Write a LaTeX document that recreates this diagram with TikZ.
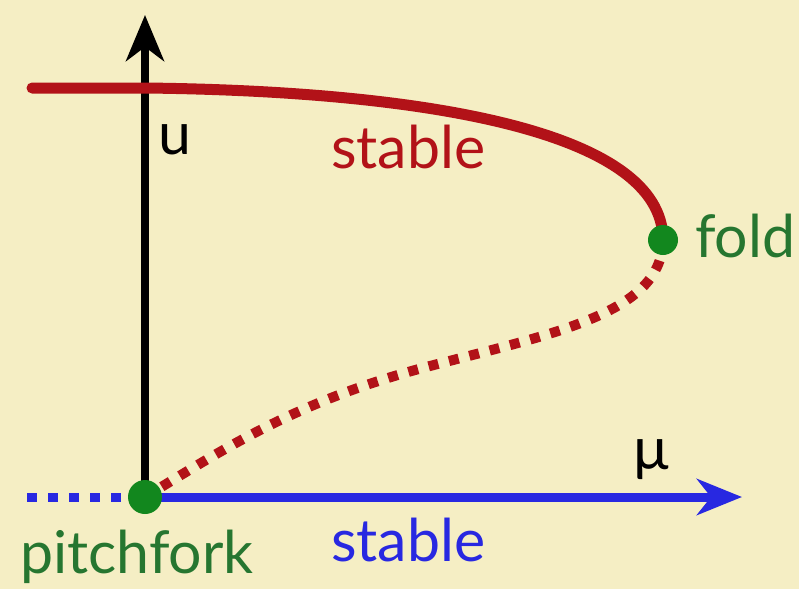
\documentclass[tikz,border=0pt]{standalone}
\usepackage{fontspec}
\setmainfont{Lato}
\usetikzlibrary{arrows.meta}
\definecolor{bg}{RGB}{245,238,196}
\definecolor{myred}{RGB}{178,18,24}
\definecolor{myblue}{RGB}{40,40,225}
\definecolor{dotgreen}{RGB}{18,135,30}
\definecolor{txtgreen}{RGB}{38,118,48}
\tikzset{
  lbl/.style={inner sep=0pt, font=\fontsize{59}{63}\selectfont},
  bdot/.style={circle, fill=dotgreen, inner sep=0pt, minimum size=#1},
  dotline/.style={line cap=butt, dash pattern=on 10pt off 11pt}
}
\begin{document}
\begin{tikzpicture}[x=1pt,y=-1pt]
\fill[bg] (0,0) rectangle (799,589);
\useasboundingbox (0,0) rectangle (799,589);
% named points
\coordinate (redstart) at (32,88);
\coordinate (redaxis) at (145,88);
\coordinate (axtop) at (145,15);
\coordinate (bluestart) at (27,497);
\coordinate (bluetip) at (742,497);
\coordinate (pf) at (145,497);
\coordinate (fd) at (663,240);
\coordinate (mid) at (430,366);
% axis
\draw[line width=7.5pt, -{Stealth[length=46pt,width=38pt,inset=14pt]}] (pf) -- (axtop);
% red stable branch
\draw[myred, line width=11pt, line cap=round] (redstart) -- (redaxis) .. controls (420,91) and (663,130) .. (fd);
% red unstable branch
\draw[myred, line width=10pt, dotline] (fd) .. controls (662,312) and (560,332) .. (mid) .. controls (300,400) and (230,445) .. (pf);
% blue branch
\draw[myblue, line width=9pt, dotline] (bluestart) -- (pf);
\draw[myblue, line width=9pt, -{Stealth[length=45pt,width=36pt,inset=14pt]}] (pf) -- (bluetip);
% dots
\node[bdot=34pt] (pfdot) at (pf) {};
\node[bdot=30pt] (fddot) at (fd) {};
% labels
\node[lbl, anchor=center] (ulab) at (175,140) {u};
\node[lbl, anchor=base west, text=myred] (rstable) at (331,168) {stable};
\node[lbl, anchor=base west, text=txtgreen] (foldlab) at (695,257) {fold};
\node[lbl, anchor=base west, text=txtgreen] (pflab) at (20,573) {pitchfork};
\node[lbl, anchor=base west, text=myblue] (bstable) at (331,561) {stable};
\node[lbl, anchor=center] (mulab) at (652,460) {µ};
\end{tikzpicture}
\end{document}
